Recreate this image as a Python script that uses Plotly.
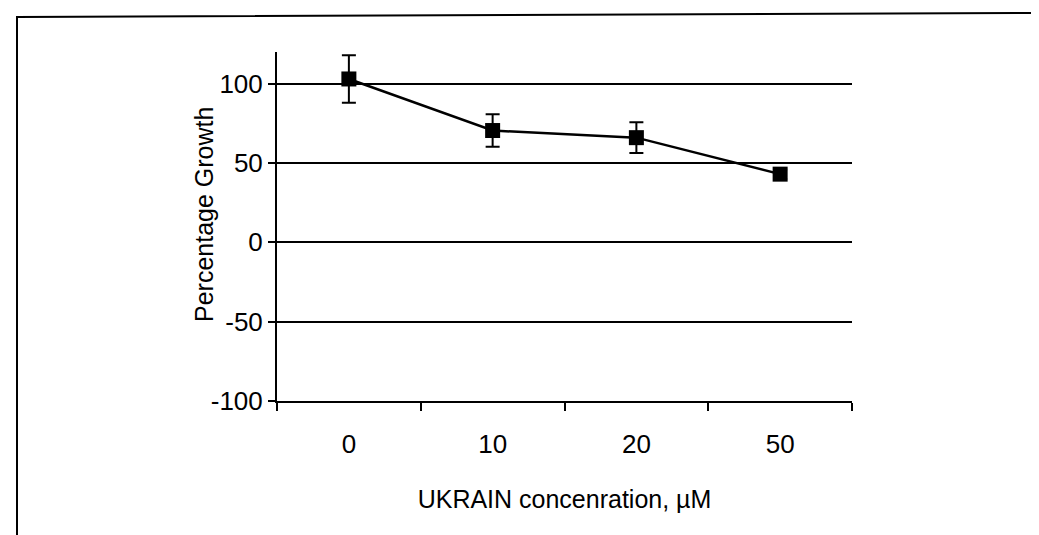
import plotly.graph_objects as go

# Data
categories = ["0", "10", "20", "50"]
growth = [103, 70.5, 66, 43]
error = [15, 10.3, 9.7, 3]
y_ticks = [-100, -50, 0, 50, 100]
y_tick_text = ["-100", "-50", "0", "50", "100"]

W, H = 1039, 535
OFF = 8  # page body margin offset
L, T = 277 - OFF, 52 - OFF
pw, ph = 575, 349
R, B = W - L - pw, H - T - ph


def px(x):
    return (x - OFF - L) / pw


def py(y):
    return (T + ph - (y - OFF)) / ph


fig = go.Figure()
fig.add_trace(go.Scatter(
    x=categories, y=growth, mode="lines+markers",
    line=dict(color="black", width=2.5),
    marker=dict(symbol="square", size=15, color="black"),
    error_y=dict(type="data", array=error, visible=True, color="black",
                 thickness=2, width=7),
    cliponaxis=False,
))

font_family = "Liberation Sans, Arial, sans-serif"

fig.update_layout(
    width=W, height=H,
    margin=dict(l=L, r=R, t=T, b=B, pad=0),
    paper_bgcolor="white", plot_bgcolor="white",
    showlegend=False,
    font=dict(family=font_family, color="black", size=26),
    xaxis=dict(
        type="category", range=[-0.5, 3.5], tickson="boundaries",
        ticks="outside", ticklen=8, tickwidth=2, tickcolor="black",
        showline=True, linecolor="black", linewidth=2, showgrid=False,
        zeroline=False, tickfont=dict(size=26), ticklabelstandoff=19,
        title=dict(text="UKRAIN concenration, µM", font=dict(size=25), standoff=32),
    ),
    yaxis=dict(
        range=[-100, 120], tickvals=y_ticks, ticktext=y_tick_text,
        ticks="outside", ticklen=7, tickwidth=2, tickcolor="black",
        showline=True, linecolor="black", linewidth=2,
        showgrid=True, gridcolor="black", gridwidth=2, zeroline=False,
        tickfont=dict(size=26), ticklabelstandoff=0,
    ),
    annotations=[
        dict(text="Percentage Growth", xref="paper", yref="paper",
             x=px(204), y=py(215), xanchor="center", yanchor="middle",
             textangle=-90, showarrow=False, font=dict(size=25)),
    ],
    shapes=[
        dict(type="path", xref="paper", yref="paper",
             path=f"M {px(17)},{py(545)} L {px(17)},{py(17)} L {px(1045)},{py(13)}",
             line=dict(color="black", width=2)),
    ],
)

fig.write_html("out.html")
